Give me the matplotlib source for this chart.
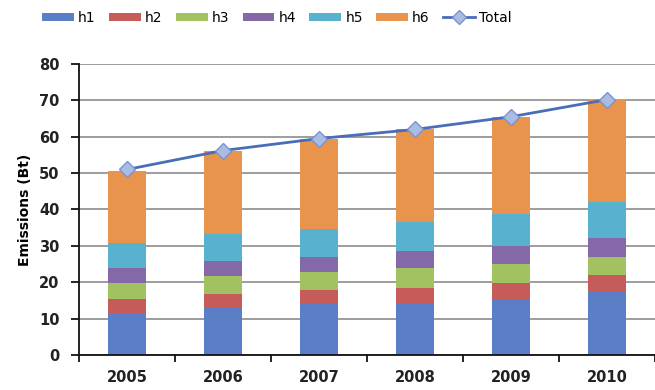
import matplotlib.pyplot as plt
from matplotlib.lines import Line2D
from matplotlib.patches import Patch

years = ["2005", "2006", "2007", "2008", "2009", "2010"]
h1 = [11.5, 13.1, 14.0, 14.4, 15.5, 17.6]
h2 = [4.0, 3.6, 3.8, 4.1, 4.2, 4.3]
h3 = [4.4, 4.9, 4.9, 5.5, 5.2, 5.0]
h4 = [4.1, 4.2, 4.3, 4.6, 5.0, 5.3]
h5 = [6.7, 7.6, 7.7, 7.9, 8.9, 9.8]
h6 = [19.8, 22.6, 24.8, 25.5, 26.7, 28.3]
total = [51.0, 56.2, 59.5, 62.0, 65.5, 70.2]

series = [("h1", h1), ("h2", h2), ("h3", h3), ("h4", h4), ("h5", h5), ("h6", h6)]
colors = ["#5a7fc6", "#c65c5a", "#a2c261", "#8468a8", "#58b2cf", "#e8944c"]

plt.rcParams["font.family"] = "DejaVu Sans"

fig = plt.figure(figsize=(6.55, 3.9), dpi=100)
ax = fig.add_axes([0.1206, 0.0897, 0.8794, 0.7463])

x = range(len(years))
bottom = [0.0] * len(years)
for (name, vals), c in zip(series, colors):
    ax.bar(x, vals, width=0.4, bottom=bottom, color=c, edgecolor="none", zorder=2)
    bottom = [b + v for b, v in zip(bottom, vals)]

ax.plot(x, total, color="#4a6db8", lw=2, marker="D", markersize=8,
        markerfacecolor="#a9bce3", markeredgecolor="#7a93cc", zorder=3)

ax.set_xlim(-0.5, 5.5)
ax.set_ylim(0, 80)
ax.set_yticks(range(0, 81, 10))
ax.yaxis.grid(True, color="#8c8c8c", lw=1.2, zorder=0)
ax.set_axisbelow(True)

ax.set_xticks(x)
ax.set_xticklabels(years, fontsize=10.5, fontweight="bold", color="#222222")
ax.set_xticks([i + 0.5 for i in range(-1, 6)], minor=True)
ax.tick_params(axis="x", which="major", length=0, pad=11)
ax.tick_params(axis="x", which="minor", length=5, width=1.2, direction="out")
ax.tick_params(axis="y", length=6, width=1.2, labelsize=10.5, pad=8, labelcolor="#222222")
for lab in ax.get_yticklabels():
    lab.set_fontweight("bold")

for side in ["top", "right"]:
    ax.spines[side].set_visible(False)
for side in ["left", "bottom"]:
    ax.spines[side].set_linewidth(1.3)
    ax.spines[side].set_color("#111111")

ax.set_ylabel("Emissions (Bt)", fontsize=10, fontweight="bold", labelpad=5)

handles = [Patch(facecolor=c, edgecolor="none") for c in colors]
handles.append(Line2D([0], [0], color="#4a6db8", lw=2, marker="D", markersize=7,
                      markerfacecolor="#a9bce3", markeredgecolor="#7a93cc"))
labels = [s[0] for s in series] + ["Total"]
fig.legend(handles, labels, loc="center left", bbox_to_anchor=(0.045, 0.955),
           ncol=7, frameon=False, fontsize=10, handlelength=2.3, handleheight=0.5,
           handletextpad=0.3, columnspacing=0.95)

fig.savefig("out.png", dpi=100)
